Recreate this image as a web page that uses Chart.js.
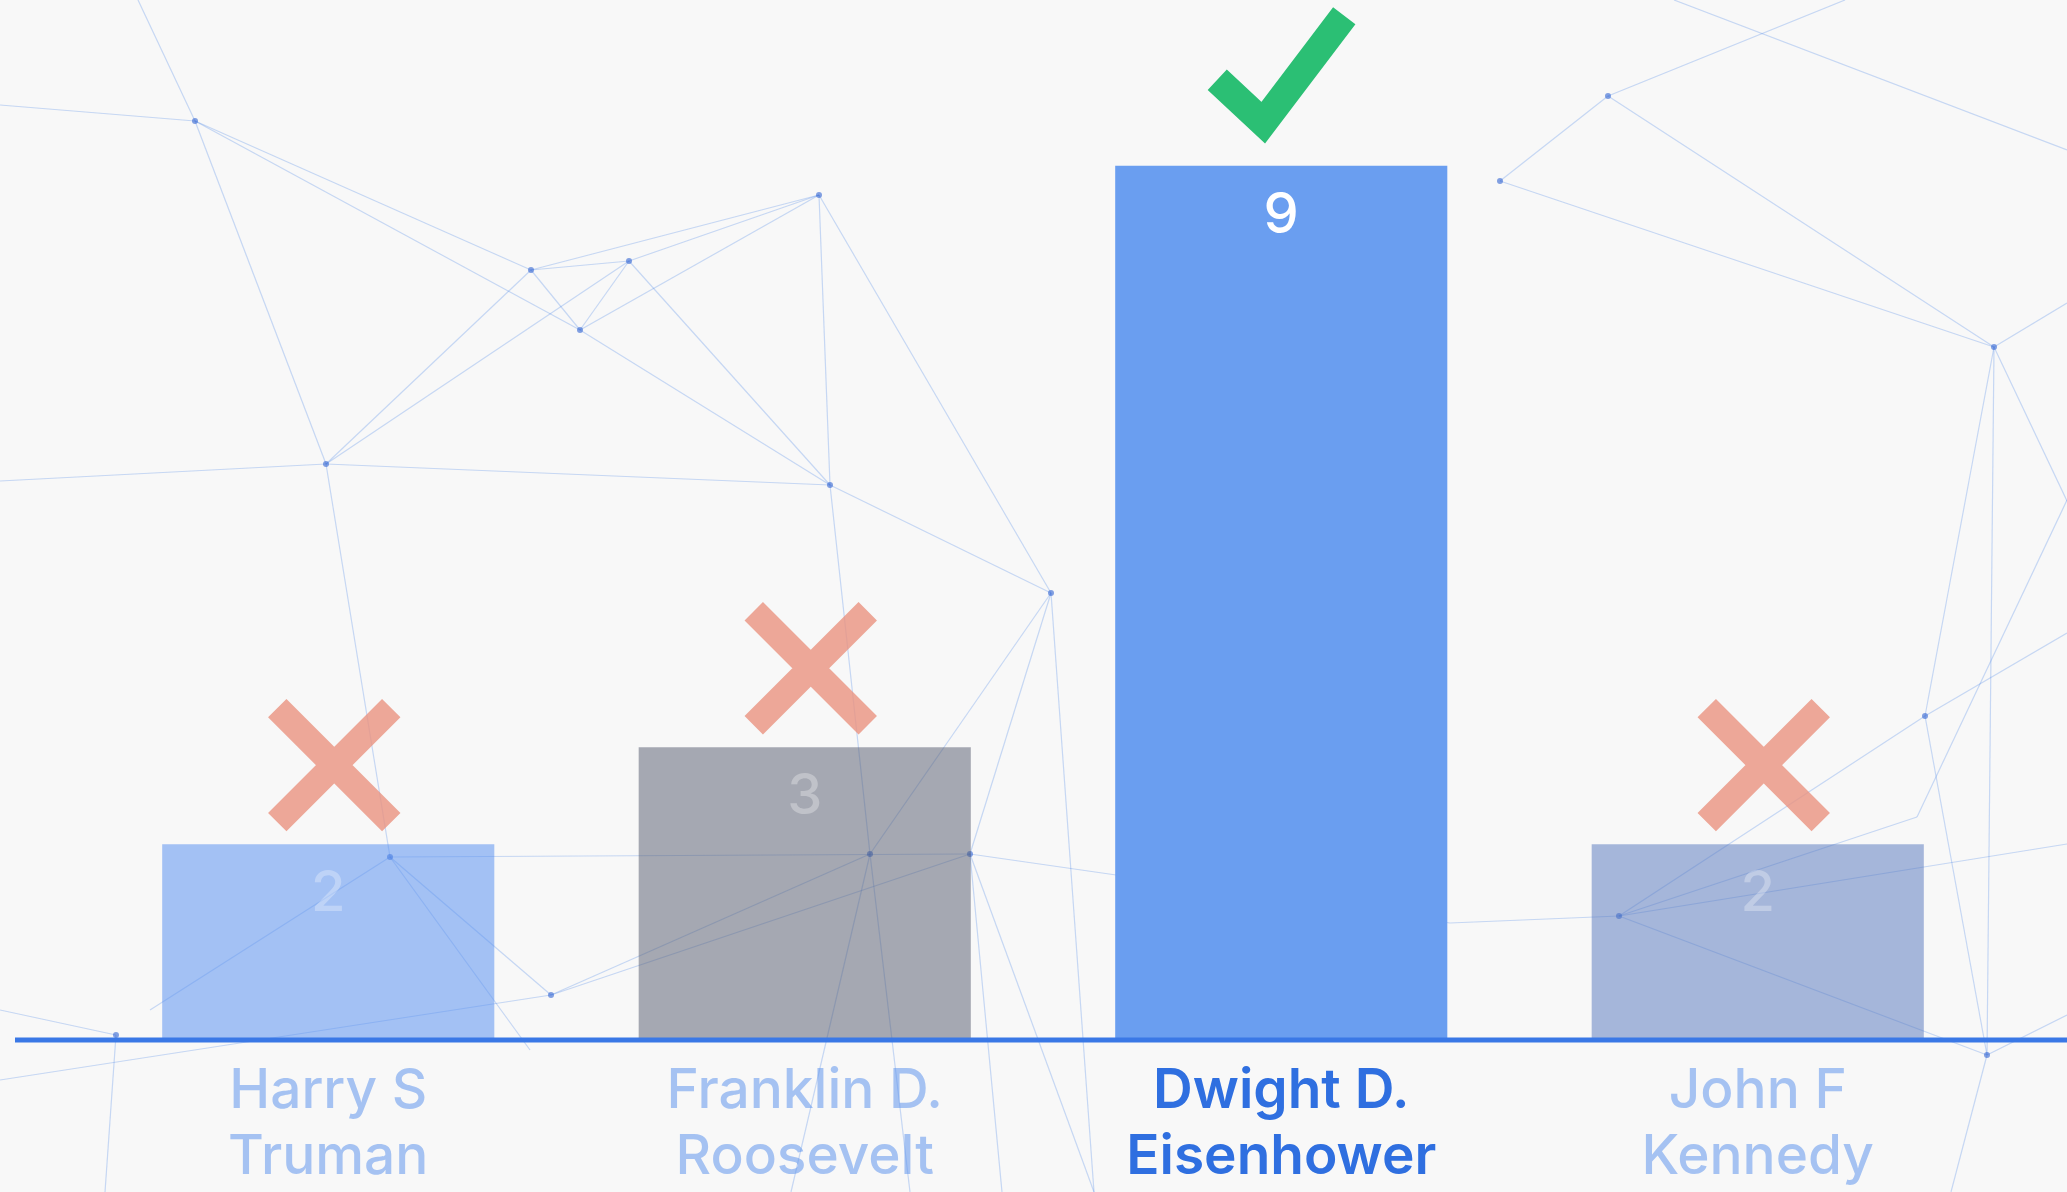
<!DOCTYPE html>
<html>
<head>
<meta charset="utf-8">
<script src="https://cdn.jsdelivr.net/npm/chart.js@4.4.0/dist/chart.umd.min.js"></script>
<style>
  html, body { margin: 0; padding: 0; background: #f8f8f8; }
</style>
</head>
<body>
<canvas id="chartVotes" width="2067" height="1192"></canvas>
<script>
const presidents = [['Harry S', 'Truman'], ['Franklin D.', 'Roosevelt'], ['Dwight D.', 'Eisenhower'], ['John F', 'Kennedy']];
const votes = [2, 3, 9, 2];
const verdicts = ['wrong', 'wrong', 'right', 'wrong'];
const highlight = 2;

const barColors = ['rgba(92,148,240,0.55)', 'rgba(88,94,114,0.52)', '#6a9ef0', 'rgba(88,120,190,0.52)'];
const labelColors = ['rgba(96,150,236,0.55)', 'rgba(96,150,236,0.55)', '#2f6fe0', 'rgba(96,150,236,0.55)'];
const valueColors = ['rgba(255,255,255,0.3)', 'rgba(255,255,255,0.3)', '#ffffff', 'rgba(255,255,255,0.3)'];

// background network decoration (not data)
const netLines = [
  [195,121,0,105],[195,121,138,0],[195,121,326,464],[195,121,531,270],[195,121,580,330],
  [326,464,0,481],[326,464,531,270],[326,464,629,261],[326,464,830,485],[326,464,390,857],
  [531,270,629,261],[531,270,580,330],[629,261,580,330],[531,270,819,195],[629,261,819,195],
  [580,330,819,195],[580,330,830,485],[629,261,830,485],[819,195,830,485],[819,195,1051,593],
  [830,485,1051,593],[830,485,870,854],[1051,593,870,854],[1051,593,970,854],[1051,593,1094,1192],
  [390,857,551,995],[390,857,970,854],[390,857,150,1010],[390,857,530,1050],[551,995,870,854],
  [551,995,970,854],[870,854,910,1192],[870,854,791,1192],[970,854,1002,1192],[970,854,1094,1192],
  [116,1035,105,1192],[116,1035,0,1010],[551,995,0,1080],[970,854,1450,923],
  [1608,96,1500,181],[1608,96,1994,347],[1608,96,1845,0],[1500,181,1994,347],[1994,347,2067,303],
  [1994,347,1925,716],[1994,347,1987,1055],[1994,347,2067,501],[1925,716,1619,916],[1925,716,1987,1055],
  [1925,716,2067,633],[1619,916,1987,1055],[1619,916,1450,923],[1619,916,2067,844],[1619,916,1917,817],
  [1987,1055,1951,1192],[1987,1055,2067,1015],[1674,0,2067,150],[1917,817,2067,500]
];
const netNodes = [[195,121],[326,464],[531,270],[629,261],[580,330],[819,195],[830,485],[1051,593],
  [390,857],[551,995],[870,854],[970,854],[116,1035],[1608,96],[1500,181],[1994,347],[1925,716],[1619,916],[1987,1055]];

const backdrop = {
  id: 'backdrop',
  beforeDraw(chart) {
    const c = chart.ctx;
    c.save();
    c.fillStyle = '#f8f8f8';
    c.fillRect(0, 0, chart.width, chart.height);
    c.strokeStyle = 'rgba(70,130,230,0.28)';
    c.lineWidth = 1.2;
    netLines.forEach(s => {
      c.beginPath();
      c.moveTo(s[0], s[1]);
      c.lineTo(s[2], s[3]);
      c.stroke();
    });
    c.fillStyle = 'rgba(50,100,210,0.6)';
    netNodes.forEach(n => {
      c.beginPath();
      c.arc(n[0], n[1], 3, 0, Math.PI * 2);
      c.fill();
    });
    c.restore();
  }
};

const decorations = {
  id: 'decorations',
  afterDatasetsDraw(chart) {
    const c = chart.ctx;
    const meta = chart.getDatasetMeta(0);
    const area = chart.chartArea;
    c.save();
    // baseline
    c.strokeStyle = '#3a78e6';
    c.lineWidth = 5;
    c.beginPath();
    c.moveTo(15, area.bottom + 2);
    c.lineTo(chart.width, area.bottom + 2);
    c.stroke();

    meta.data.forEach((bar, i) => {
      // value inside bar
      c.fillStyle = valueColors[i];
      c.font = '500 56px Inter';
      c.textAlign = 'center';
      c.textBaseline = 'middle';
      c.fillText(String(votes[i]), bar.x, bar.y + 50);

      // verdict icon
      c.lineCap = 'butt';
      if (verdicts[i] === 'wrong') {
        const cx = bar.x + 6, cy = bar.y - 79, h = 57;
        c.strokeStyle = 'rgba(234,146,128,0.8)';
        c.lineWidth = 26;
        c.beginPath();
        c.moveTo(cx - h, cy - h); c.lineTo(cx + h, cy + h);
        c.moveTo(cx + h, cy - h); c.lineTo(cx - h, cy + h);
        c.stroke();
      } else {
        c.strokeStyle = '#2bbf74';
        c.lineWidth = 28;
        c.lineJoin = 'miter';
        c.beginPath();
        c.moveTo(bar.x - 64, bar.y - 86);
        c.lineTo(bar.x - 18, bar.y - 43);
        c.lineTo(bar.x + 63, bar.y - 150);
        c.stroke();
      }
    });
    c.restore();
  }
};

new Chart(document.getElementById('chartVotes'), {
  type: 'bar',
  data: {
    labels: presidents,
    datasets: [{
      data: votes,
      backgroundColor: barColors,
      borderWidth: 0,
      categoryPercentage: 1,
      barPercentage: 0.697
    }]
  },
  options: {
    responsive: false,
    animation: false,
    layout: { padding: { left: 90, right: 71, top: 0, bottom: -18 } },
    plugins: { legend: { display: false }, tooltip: { enabled: false } },
    scales: {
      x: {
        grid: { display: false, drawTicks: false },
        border: { display: false },
        ticks: {
          padding: 20,
          color: (ctx) => labelColors[ctx.index],
          font: (ctx) => ({ family: 'Inter', size: 55, weight: ctx.index === highlight ? '600' : '500', lineHeight: 1.2 })
        }
      },
      y: {
        display: false,
        min: 0,
        max: 10.71
      }
    }
  },
  plugins: [backdrop, decorations]
});
</script>
</body>
</html>
